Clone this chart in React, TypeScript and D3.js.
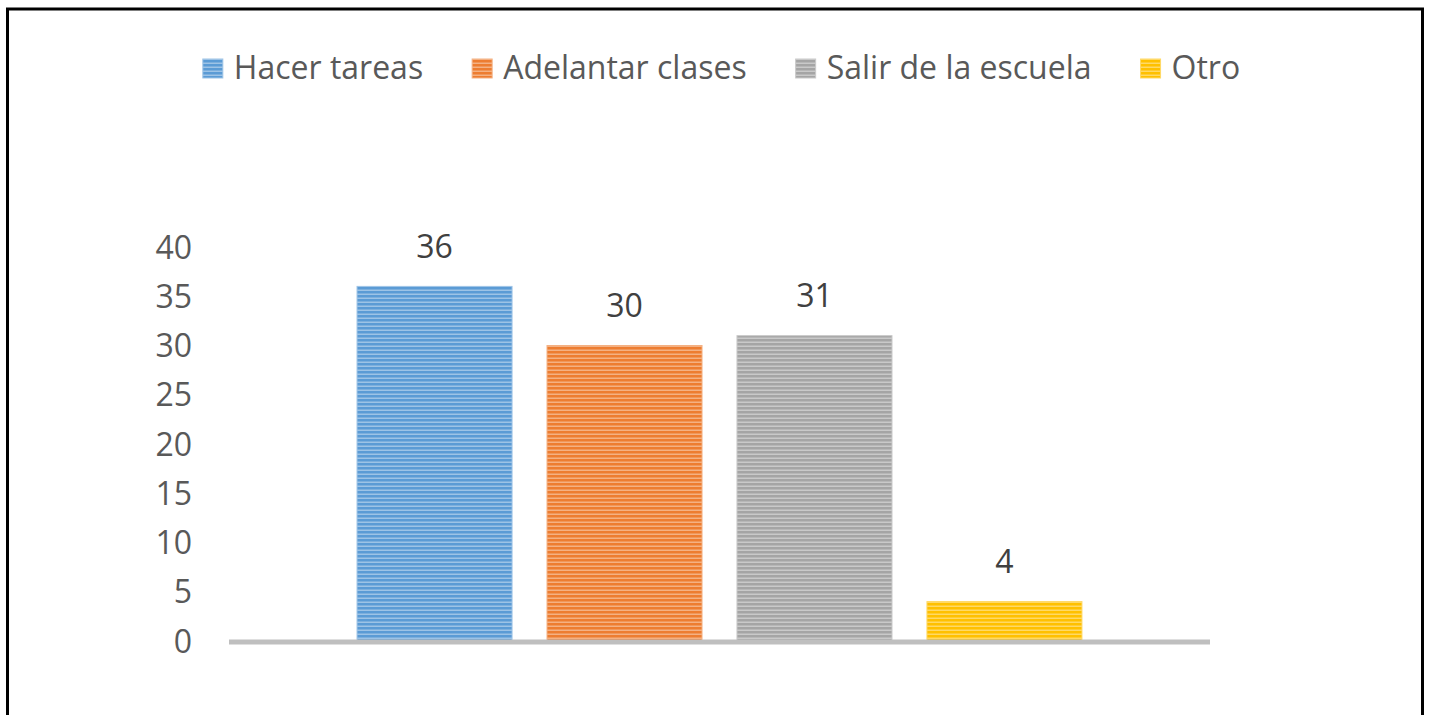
import React, { useEffect, useRef } from 'react';
import { axisLeft, scaleBand, scaleLinear, select } from 'd3';

const categories = ['Hacer tareas', 'Adelantar clases', 'Salir de la escuela', 'Otro'];
const values = [36, 30, 31, 4];
const colors = ['#5B9BD5', '#ED7D31', '#A5A5A5', '#FFC000'];
const lightColors = ['#9DC3E6', '#F4B183', '#C9C9C9', '#FFD966'];
const yTicks = [0, 5, 10, 15, 20, 25, 30, 35, 40];

const W = 1429;
const H = 715;
const FONT = '"Open Sans", sans-serif';
const TEXT = '#595959';

function Chart() {
  const ref = useRef<SVGSVGElement>(null);

  useEffect(() => {
    if (!ref.current) return;
    const svg = select(ref.current);
    svg.selectAll('*').remove();

    const margin = { left: 229, right: W - 1210, top: 247, bottom: H - 641 };
    const innerW = W - margin.left - margin.right;
    const innerH = H - margin.top - margin.bottom;

    const defs = svg.append('defs');
    colors.forEach((c, i) => {
      const p = defs
        .append('pattern')
        .attr('id', `stripe-${i}`)
        .attr('patternUnits', 'userSpaceOnUse')
        .attr('width', 8)
        .attr('height', 4);
      p.append('rect').attr('width', 8).attr('height', 4).attr('fill', c);
      p.append('rect').attr('y', 2.5).attr('width', 8).attr('height', 1.5).attr('fill', lightColors[i]);
    });

    // frame
    svg
      .append('rect')
      .attr('x', 7.5)
      .attr('y', 9)
      .attr('width', 1415)
      .attr('height', 720)
      .attr('fill', 'white')
      .attr('stroke', '#000')
      .attr('stroke-width', 3);

    const x = scaleBand<string>()
      .domain(categories)
      .range([0, innerW])
      .paddingInner(0.184)
      .paddingOuter(0.674);
    const y = scaleLinear().domain([0, 40]).range([innerH, 0]);

    const g = svg.append('g').attr('transform', `translate(${margin.left},${margin.top})`);

    g.append('g')
      .attr('transform', 'translate(-37,0)')
      .call(axisLeft(y).tickValues(yTicks).tickSize(0).tickPadding(0))
      .call((a) => {
        a.select('.domain').remove();
        a.selectAll('.tick text')
          .attr('font-family', FONT)
          .attr('font-size', 32)
          .attr('fill', TEXT)
          .attr('dy', '0.35em');
      });

    g.selectAll('rect.bar')
      .data(values)
      .join('rect')
      .attr('class', 'bar')
      .attr('x', (_, i) => x(categories[i])!)
      .attr('y', (d) => y(d))
      .attr('width', x.bandwidth())
      .attr('height', (d) => innerH - y(d))
      .attr('fill', (_, i) => `url(#stripe-${i})`)
      .attr('stroke', (_, i) => lightColors[i])
      .attr('stroke-width', 1);

    g.selectAll('text.lbl')
      .data(values)
      .join('text')
      .attr('class', 'lbl')
      .attr('x', (_, i) => x(categories[i])! + x.bandwidth() / 2)
      .attr('y', (d) => y(d) - 40)
      .attr('dy', '0.35em')
      .attr('text-anchor', 'middle')
      .attr('font-family', FONT)
      .attr('font-size', 32)
      .attr('fill', '#404040')
      .text((d) => d);

    g.append('line')
      .attr('x1', 0)
      .attr('x2', innerW)
      .attr('y1', innerH + 1)
      .attr('y2', innerH + 1)
      .attr('stroke', '#BFBFBF')
      .attr('stroke-width', 5);

    // legend
    const leg = svg.append('g');
    const items = leg
      .selectAll('g')
      .data(categories)
      .join('g');
    items
      .append('rect')
      .attr('width', 20)
      .attr('height', 19)
      .attr('y', 59)
      .attr('fill', (_, i) => `url(#stripe-${i})`)
      .attr('stroke', (_, i) => lightColors[i]);
    items
      .append('text')
      .attr('x', 31)
      .attr('y', 68)
      .attr('dy', '0.35em')
      .attr('font-family', FONT)
      .attr('font-size', 32)
      .attr('fill', TEXT)
      .text((d) => d);
    let cx = 0;
    const offs: number[] = [];
    items.each(function () {
      const t = select(this).select('text').node() as SVGTextElement;
      offs.push(cx);
      cx += 31 + t.getComputedTextLength() + 49;
    });
    const total = cx - 49;
    const start = 721.5 - total / 2;
    items.attr('transform', (_, i) => `translate(${start + offs[i]},0)`);
  }, []);

  return <svg ref={ref} width={W} height={H} style={{ display: 'block' }} />;
}

export default function App() {
  return (
    <div style={{ position: 'absolute', left: 0, top: 0, background: 'white' }}>
      <Chart />
    </div>
  );
}
